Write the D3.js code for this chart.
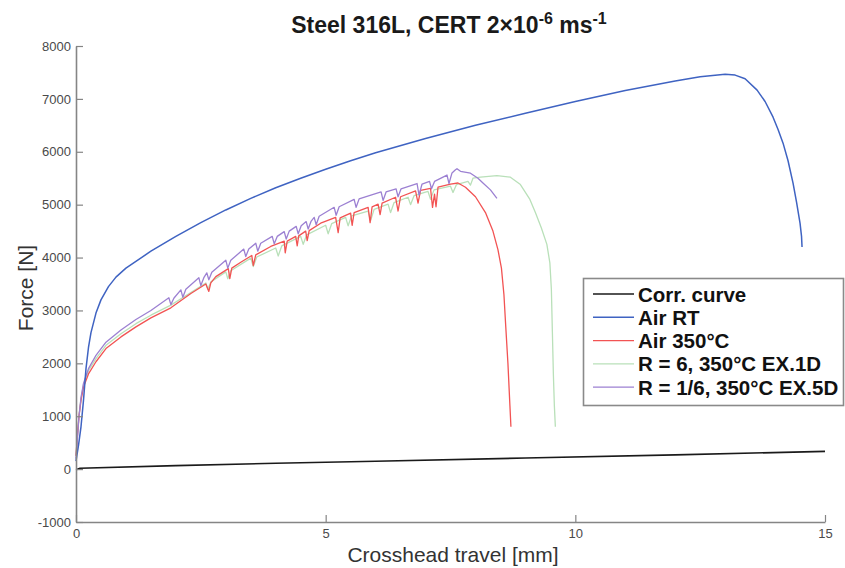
<!DOCTYPE html>
<html>
<head>
<meta charset="utf-8">
<script src="https://cdn.jsdelivr.net/npm/d3@7"></script>
<style>
body { margin: 0; background: #fff; }
</style>
</head>
<body>
<script>

var corrCurve = [[0,-10],[0.08,15],[2,65],[4,110],[6,150],[9,210],[12,270],[15,335]];

var airRT = [[0,150],[0.05,450],[0.1,800],[0.15,1300],[0.2,1900],[0.25,2300],[0.3,2580],[0.4,2950],[0.5,3200],
	[0.65,3450],[0.8,3630],[1,3800],[1.5,4120],[2,4400],[2.5,4660],[3,4900],[3.5,5120],[4,5320],[4.5,5500],
	[5,5670],[5.5,5830],[6,5980],[7,6250],[8,6500],[9,6730],[10,6950],[11,7160],[12,7340],[12.5,7420],
	[13,7467],[13.2,7450],[13.4,7380],[13.64,7165],[13.8,6950],[13.96,6654],[14.06,6420],[14.16,6163],
	[14.26,5830],[14.36,5406],[14.43,5050],[14.5,4650],[14.53,4400],[14.54,4200]];

var air350 = [[0,250],[0.03,650],[0.06,1000],[0.1,1300],[0.15,1550],[0.25,1800],[0.4,2030],[0.6,2280],[0.9,2500],
	[1.2,2690],[1.5,2860],[1.9,3050],[2.3,3320],
	[2.6,3500],[2.66,3360],[2.7,3520],
	[2.8,3640],[3.05,3790],[3.08,3600],[3.12,3800],
	[3.3,3910],[3.52,4040],[3.55,3850],[3.6,4050],
	[3.9,4210],[4.17,4310],[4.19,4090],[4.23,4310],
	[4.4,4400],[4.43,4220],[4.46,4410],[4.6,4500],[4.63,4320],[4.67,4510],
	[4.9,4650],[5.2,4760],[5.25,4470],[5.29,4750],
	[5.5,4840],[5.53,4610],[5.57,4850],
	[5.85,4950],[5.89,4660],[5.93,4960],
	[6.05,5010],[6.09,4810],[6.13,5030],
	[6.4,5140],[6.45,4880],[6.5,5150],
	[6.8,5260],[6.85,5030],[6.9,5270],
	[7.1,5310],[7.14,4950],[7.18,5200],[7.21,4960],[7.25,5330],
	[7.5,5390],[7.65,5410],[7.8,5330],[8.0,5150],[8.2,4850],[8.35,4500],[8.45,4150],[8.52,3800],[8.57,3300],
	[8.6,2800],[8.65,2000],[8.69,1200],[8.71,800]];

var r6 = [[0,250],[0.03,650],[0.06,1020],[0.1,1330],[0.15,1600],[0.25,1860],[0.4,2090],[0.6,2340],[0.9,2560],
	[1.2,2750],[1.5,2910],[1.9,3100],[2.3,3340],
	[2.6,3520],[2.64,3400],[2.7,3540],
	[3.0,3730],[3.04,3600],[3.1,3750],
	[3.5,3990],[3.55,3830],[3.62,4010],
	[4.0,4180],[4.05,4030],[4.12,4220],
	[4.5,4400],[4.55,4250],[4.62,4430],
	[5.0,4610],[5.05,4450],[5.12,4640],
	[5.4,4760],[5.45,4600],[5.52,4790],
	[5.85,4880],[5.9,4700],[5.97,4910],
	[6.25,5010],[6.3,4850],[6.37,5040],
	[6.65,5140],[6.7,5000],[6.77,5170],
	[7.05,5250],[7.1,5100],[7.17,5280],
	[7.5,5350],[7.55,5230],[7.62,5380],
	[7.85,5440],[7.9,5370],[7.95,5500],
	[8.1,5520],[8.43,5550],[8.7,5520],[8.9,5380],[9.09,5100],[9.2,4850],[9.32,4560],[9.43,4250],[9.49,3900],
	[9.52,3400],[9.54,2600],[9.56,1800],[9.58,1200],[9.6,800]];

var r16 = [[0,200],[0.03,600],[0.06,1000],[0.1,1350],[0.15,1620],[0.25,1900],[0.4,2150],[0.6,2400],[0.9,2630],
	[1.2,2830],[1.5,3000],
	[1.86,3240],[1.9,3110],[1.96,3230],
	[2.1,3390],[2.14,3250],[2.2,3400],
	[2.46,3620],[2.5,3470],[2.56,3620],
	[2.62,3710],[2.66,3580],[2.72,3720],
	[3.0,3950],[3.04,3800],[3.1,3950],
	[3.36,4160],[3.4,4020],[3.46,4160],
	[3.6,4270],[3.64,4120],[3.7,4270],
	[3.93,4400],[3.97,4260],[4.03,4400],
	[4.17,4490],[4.21,4350],[4.27,4500],
	[4.41,4590],[4.45,4450],[4.51,4600],
	[4.61,4680],[4.65,4540],[4.71,4690],
	[4.77,4760],[4.81,4620],[4.87,4780],
	[5.17,4950],[5.21,4800],[5.27,4960],
	[5.57,5100],[5.61,4950],[5.67,5110],
	[6.11,5240],[6.15,5080],[6.21,5240],
	[6.41,5300],[6.45,5150],[6.51,5300],
	[6.83,5400],[6.87,5180],[6.93,5390],
	[7.08,5440],[7.12,5300],[7.18,5440],
	[7.43,5560],[7.47,5400],[7.53,5600],
	[7.6,5660],[7.63,5680],[7.7,5630],[7.9,5595],[8.05,5500],[8.15,5410],[8.3,5280],[8.43,5120]];

var seriesNames = ["Corr. curve", "Air RT", "Air 350°C", "R = 6, 350°C EX.1D", "R = 1/6, 350°C EX.5D"];
var seriesData = [corrCurve, airRT, air350, r6, r16];
var seriesColors = ["#1a1a1a", "#3f63c2", "#f25353", "#b9e0b9", "#9c80d2"];
var seriesWidths = [1.6, 1.5, 1.3, 1.3, 1.3];

var xTicks = [0, 5, 10, 15];
var yTicks = [-1000, 0, 1000, 2000, 3000, 4000, 5000, 6000, 7000, 8000];

var width = 845,
	height = 568,
	svg = d3.select("body").append("svg")
		.attr("width", width)
		.attr("height", height)
		.style("font-family", "'Liberation Sans', Arial, sans-serif");

var x = d3.scaleLinear().domain([0, 15]).range([76, 825]);
var y = d3.scaleLinear().domain([-1000, 8000]).range([522, 46]);

// curves
var line = d3.line()
	.x(function(d) { return x(d[0]); })
	.y(function(d) { return y(d[1]); });

// light ones first so darker lines stay on top
var drawOrder = [3, 2, 4, 1, 0];
drawOrder.forEach(function(i) {
	svg.append("path")
		.datum(seriesData[i])
		.attr("fill", "none")
		.attr("stroke", seriesColors[i])
		.attr("stroke-width", seriesWidths[i])
		.attr("stroke-linejoin", "round")
		.attr("d", line);
});

// axes, matlab style with ticks pointing in
var plain = function(d) { return String(d); };

var xAxis = svg.append("g")
	.attr("transform", "translate(0," + y(-1000) + ")")
	.call(d3.axisBottom(x).tickValues(xTicks).tickFormat(plain).tickSizeInner(-7).tickSizeOuter(0).tickPadding(7));

var yAxis = svg.append("g")
	.attr("transform", "translate(" + x(0) + ",0)")
	.call(d3.axisLeft(y).tickValues(yTicks).tickFormat(plain).tickSizeInner(-7).tickSizeOuter(0).tickPadding(5));

[xAxis, yAxis].forEach(function(a) {
	a.select(".domain").attr("stroke", "#858585").attr("stroke-width", 1.6);
	a.selectAll(".tick line").attr("stroke", "#858585").attr("stroke-width", 1.2);
	a.selectAll(".tick text")
		.attr("fill", "#4a4a4a")
		.style("font-size", "13px")
		.style("font-family", "'Liberation Sans', Arial, sans-serif");
});

// labels
svg.append("text")
	.attr("x", 453)
	.attr("y", 562)
	.attr("text-anchor", "middle")
	.attr("fill", "#333")
	.style("font-size", "21px")
	.text("Crosshead travel [mm]");

svg.append("text")
	.attr("transform", "translate(33,288) rotate(-90)")
	.attr("text-anchor", "middle")
	.attr("fill", "#333")
	.style("font-size", "21px")
	.text("Force [N]");

var title = svg.append("text")
	.attr("x", 449)
	.attr("y", 33)
	.attr("text-anchor", "middle")
	.attr("fill", "#1a1a1a")
	.style("font-size", "23px")
	.style("font-weight", "bold");
title.append("tspan").text("Steel 316L, CERT 2×10");
title.append("tspan").attr("dy", -9).style("font-size", "16px").text("-6");
title.append("tspan").attr("dy", 9).text(" ms");
title.append("tspan").attr("dy", -9).style("font-size", "16px").text("-1");

// legend
var legend = svg.append("g");
legend.append("rect")
	.attr("x", 583.5)
	.attr("y", 278.5)
	.attr("width", 260)
	.attr("height", 127)
	.attr("fill", "#fff")
	.attr("stroke", "#8a8a8a")
	.attr("stroke-width", 1.6);

var rows = legend.selectAll("g.row")
	.data(seriesNames)
	.enter().append("g")
	.attr("class", "row")
	.attr("transform", function(d, i) { return "translate(0," + (294 + i * 23.3) + ")"; });

rows.append("line")
	.attr("x1", 593)
	.attr("x2", 634)
	.attr("stroke", function(d, i) { return seriesColors[i]; })
	.attr("stroke-width", function(d, i) { return seriesWidths[i]; });

rows.append("text")
	.attr("x", 638)
	.attr("y", 7.5)
	.attr("fill", "#111")
	.style("font-size", "20.5px")
	.style("font-weight", "bold")
	.text(function(d) { return d; });

</script>
</body>
</html>
